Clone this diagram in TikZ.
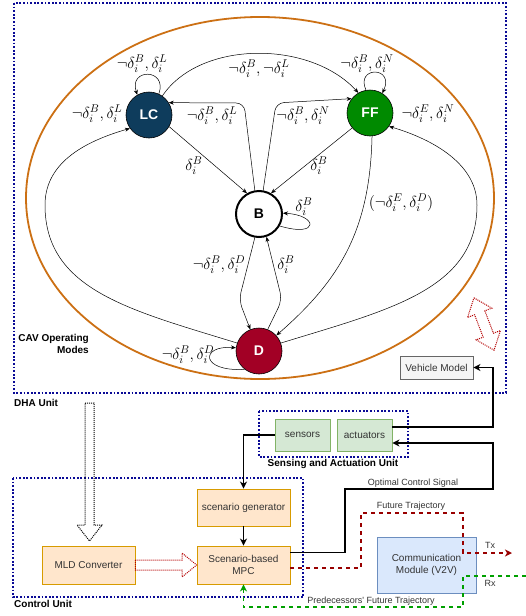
\RequirePackage{fix-cm}
\documentclass[tikz,border=0pt]{standalone}
\usepackage{fontspec}
\newfontfamily\lsans{Liberation Sans}
\usetikzlibrary{arrows.meta}
\definecolor{unitblue}{RGB}{10,10,150}
\definecolor{ellorange}{RGB}{204,112,20}
\definecolor{lcblue}{RGB}{14,60,92}
\definecolor{ffgreen}{RGB}{0,138,0}
\definecolor{dred}{RGB}{162,0,37}
\definecolor{orfill}{RGB}{255,230,204}
\definecolor{ordraw}{RGB}{215,155,0}
\definecolor{grfill}{RGB}{213,232,212}
\definecolor{grdraw}{RGB}{130,179,102}
\definecolor{blfill}{RGB}{218,232,252}
\definecolor{bldraw}{RGB}{108,142,191}
\definecolor{gyfill}{RGB}{245,245,245}
\definecolor{gydraw}{RGB}{102,102,102}
\definecolor{txtgray}{RGB}{51,51,51}
\definecolor{trajred}{RGB}{153,0,0}
\definecolor{trajgreen}{RGB}{0,160,0}
\definecolor{blockred}{RGB}{180,0,0}
\begin{document}
\begin{tikzpicture}[x=1pt,y=-1pt,
  state/.style={circle,draw=black,line width=0.6pt,minimum size=46pt,inner sep=0pt,
    font=\lsans\bfseries\fontsize{14}{14}\selectfont,text=white},
  edge/.style={draw,line width=0.5pt,-{Stealth[length=5pt,width=4pt]}},
  lab/.style={font=\fontsize{16}{18}\selectfont,inner sep=0pt},
  box/.style={draw,rectangle,line width=0.8pt,inner sep=0pt,align=center,
    font=\lsans\fontsize{10}{12}\selectfont},
  unitbox/.style={draw=unitblue,line width=1.8pt,dash pattern=on 1.8pt off 1.8pt},
  unitlabel/.style={font=\lsans\bfseries\fontsize{10}{12}\selectfont,inner sep=0pt},
  small/.style={font=\lsans\fontsize{9}{11}\selectfont,text=txtgray,inner sep=0pt},
  blk/.style={draw,line width=1.4pt,-{Stealth[length=7pt,width=7pt,inset=2pt]}},
  blockarrow/.style={line width=1pt,dash pattern=on 1pt off 1pt}
]
\useasboundingbox (0,0) rectangle (526,616);

% unit boxes
\draw[unitbox] (14,3) rectangle (506,393);
\draw[unitbox] (259,411) rectangle (408,457);
\draw[unitbox] (13,478) rectangle (303,597);
\node[unitlabel,anchor=west] (dhal) at (14,403) {DHA Unit};
\node[unitlabel,anchor=west] (ctrll) at (14,604) {Control Unit};
\node[unitlabel] (sal) at (333,464) {Sensing and Actuation Unit};
\node[unitlabel,anchor=east,align=right] (cavl) at (89,344) {CAV Operating\\Modes};

% ellipse
\draw[ellorange,line width=1.8pt] (260,198) ellipse [x radius=234, y radius=181];

% states
\node[state,fill=lcblue] (LC) at (149,115) {LC};
\node[state,fill=ffgreen] (FF) at (370,113) {FF};
\node[state,fill=white,text=black,line width=2pt] (B) at (259,214) {B};
\node[state,fill=dred] (D) at (259,351) {D};

% edges
\draw[edge] (LC.65) .. controls (168,68) and (128,68) .. (LC.120);
\draw[edge] (FF.100) .. controls (355,66) and (395,66) .. (FF.58);
\draw[edge] (LC.55) .. controls (200,40) and (310,40) .. (FF.120);
\draw[edge,rounded corners=8pt] (B.100) -- (244,103) -- (LC.32);
\draw[edge,rounded corners=8pt] (B.80) -- (276,103) -- (FF.142);
\draw[edge] (LC.-30) -- (B.120);
\draw[edge] (FF.-140) -- (B.60);
\draw[edge] (FF.-85) .. controls (370,230) and (340,280) .. (D.42);
\draw[edge] (D.20) .. controls (388,310) and (477,290) .. (477,205)
  .. controls (477,165) and (435,140) .. (FF.-35);
\draw[edge] (D.160) .. controls (130,310) and (45,290) .. (45,205)
  .. controls (45,160) and (90,140) .. (LC.-145);
\draw[edge,rounded corners=8pt] (B.-100) -- (239,300) -- (D.112);
\draw[edge,rounded corners=8pt] (D.68) -- (282,300) -- (B.-72);
\draw[edge] (B.-30) .. controls (320,238) and (318,215) .. (B.2);
\draw[edge] (D.-128) .. controls (200,372) and (200,345) .. (D.172);

% edge labels
\node[lab] (l1) at (142,64) {$\neg\delta_i^B,\delta_i^L$};
\node[lab] (l2) at (259,69) {$\neg\delta_i^B,\neg\delta_i^L$};
\node[lab] (l3) at (367,64) {$\neg\delta_i^B,\delta_i^N$};
\node[lab] (l4) at (97,114) {$\neg\delta_i^B,\delta_i^L$};
\node[lab] (l5) at (212,116) {$\neg\delta_i^B,\delta_i^L$};
\node[lab] (l6) at (303,116) {$\neg\delta_i^B,\delta_i^N$};
\node[lab] (l7) at (428,114) {$\neg\delta_i^E,\delta_i^N$};
\node[lab] (l8) at (194,166) {$\delta_i^B$};
\node[lab] (l9) at (319,166) {$\delta_i^B$};
\node[lab] (l10) at (401,203) {$(\neg\delta_i^E,\delta_i^D)$};
\node[lab] (l11) at (304,207) {$\delta_i^B$};
\node[lab] (l12) at (219,265) {$\neg\delta_i^B,\delta_i^D$};
\node[lab] (l13) at (286,265) {$\delta_i^B$};
\node[lab] (l14) at (188,355) {$\neg\delta_i^B,\delta_i^D$};

% red dotted double arrow
\begin{scope}[shift={(484,324)},rotate=21]
\draw[blockarrow,blockred] (0,-28) -- (13,-12) -- (5.5,-12) -- (5.5,12) -- (13,12) -- (0,28)
  -- (-13,12) -- (-5.5,12) -- (-5.5,-12) -- (-13,-12) -- cycle;
\end{scope}

% lower boxes
\node[box,fill=gyfill,draw=gydraw,text=txtgray,minimum width=73pt,minimum height=23pt] (vm) at (436.5,367.5) {Vehicle Model};
\node[box,fill=grfill,draw=grdraw,text=txtgray,minimum width=55pt,minimum height=32pt] (sens) at (302.5,435) {sensors};
\node[box,fill=grfill,draw=grdraw,text=txtgray,minimum width=55pt,minimum height=32pt] (act) at (364.5,435) {actuators};
\node[box,fill=orfill,draw=ordraw,text=txtgray,minimum width=93pt,minimum height=37pt] (sg) at (243.5,507.5) {scenario generator};
\node[box,fill=orfill,draw=ordraw,text=txtgray,minimum width=93pt,minimum height=38pt] (mpc) at (243.5,565) {Scenario-based\\MPC};
\node[box,fill=orfill,draw=ordraw,text=txtgray,minimum width=93pt,minimum height=38pt] (mld) at (88.5,565) {MLD Converter};
\node[box,fill=blfill,draw=bldraw,text=txtgray,minimum width=99pt,minimum height=56pt] (comm) at (426.5,565) {Communication\\Module (V2V)};

% block arrows
\draw[blockarrow,black] (85,403) -- (94,403) -- (94,525) -- (102,525) -- (89.5,541) -- (77,525) -- (85,525) -- cycle;
\draw[blockarrow,blockred] (mld.east |- 0,560) -- (182,560) -- (182,553) -- (mpc.west) -- (182,577) -- (182,570) -- (mld.east |- 0,570) -- cycle;

% solid connectors
\draw[blk] (sens.west) -- (sens.west -| sg.north) -- (sg.north);
\draw[blk] (sg.south) -- (mpc.north);
\draw[blk] ([yshift=8pt]act.east) -| (493,367.5) -- (vm.east);
\draw[blk] ([yshift=12.5pt]mpc.east) -- (345,552.5) -- (345,489) -- (493,489) -- (493,443) -- ([yshift=-8pt]act.east);

% dashed trajectories
\coordinate (tx) at (512,553);
\coordinate (rx) at (526,576);
\draw[trajred,line width=1.4pt,dash pattern=on 4pt off 4pt,-{Stealth[length=7pt,width=7pt,inset=2pt]}]
  ([yshift=-3pt]mpc.east) -- (361,568) -- (361,513) -- (463,513) -- (463,553) -- (tx);
\draw[trajgreen,line width=1.4pt,dash pattern=on 4pt off 4pt,-{Stealth[length=7pt,width=7pt,inset=2pt]}]
  (rx) -- (463,576) -- (463,607) -- (243.5,607) -- (mpc.south);

% small labels
\node[small] (ocs) at (413,483) {Optimal Control Signal};
\node[small] (ftl) at (411,506) {Future Trajectory};
\node[small] (txl) at (490,545) {Tx};
\node[small] (rxl) at (490,583) {Rx};
\node[small] (pftl) at (371,601) {Predecessors' Future Trajectory};
\end{tikzpicture}
\end{document}
